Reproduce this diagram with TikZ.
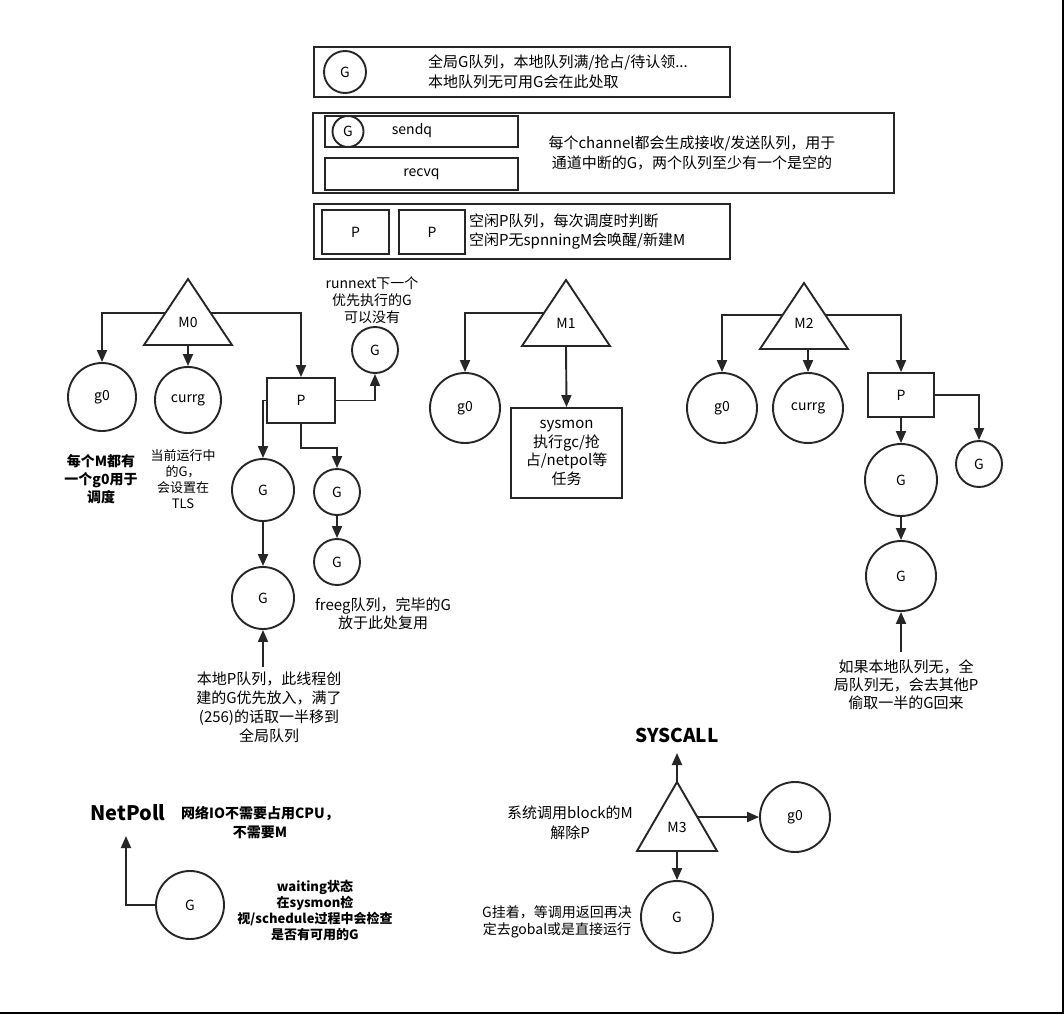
\documentclass[tikz,border=0pt]{standalone}
\usepackage{fontspec}
\setmainfont{Noto Sans CJK SC}
\usetikzlibrary{arrows.meta,positioning,calc}

\begin{document}
\begin{tikzpicture}[x=1pt,y=-1pt,
            ln/.style={line width=1.9pt,draw=black!85},
            gcirc/.style={draw,circle,ln,inner sep=0pt,font=\fontsize{14}{16}\selectfont},
            pbox/.style={draw,rectangle,ln,inner sep=0pt,font=\fontsize{14}{16}\selectfont},
            qbox/.style={draw,rectangle,ln,inner sep=0pt},
            mlab/.style={inner sep=0pt,font=\fontsize{14}{16}\selectfont},
            note/.style={align=center,inner sep=0pt,font=\fontsize{15}{19}\selectfont},
            bnote/.style={align=center,inner sep=0pt,font=\bfseries\fontsize{13}{15.7}\selectfont},
            link/.style={draw,->,ln,>={Triangle[length=12pt,width=10pt]}}
          ]
          \useasboundingbox (0,0) rectangle (1064,1014);
          \draw[line width=1.5pt] (0,1013) coordinate (fr1) -- (1063,1013) coordinate (fr2) -- (1063,0) coordinate (fr3);

          %global queue
          \node[qbox,minimum width=416pt,minimum height=50pt] (gq) at (522,72) {};
          \node[gcirc,minimum size=42pt] (gqg) at (345,72) {G};
          \node[note,anchor=west,align=left,font=\fontsize{15}{20}\selectfont] (gqt) at (428,72) {全局G队列，本地队列满/抢占/待认领...\\本地队列无可用G会在此处取};

          %channel queues
          \node[qbox,minimum width=581pt,minimum height=80pt] (chq) at (603.5,153) {};
          \node[qbox,minimum width=193pt,minimum height=31pt] (sendq) at (421.5,131.5) {};
          \node[mlab] (sendqt) at (412,131) {sendq};
          \node[gcirc,minimum size=31pt] (sendqg) at (348,131.5) {G};
          \node[qbox,minimum width=193pt,minimum height=32pt,font=\fontsize{14}{16}\selectfont] (recvq) at (421.5,174) {recvq};
          \node[note,font=\fontsize{15}{20}\selectfont] (cht) at (692,153) {每个channel都会生成接收/发送队列，用于\\通道中断的G，两个队列至少有一个是空的};

          %idle P
          \node[qbox,minimum width=416pt,minimum height=55pt] (pq) at (522,231.5) {};
          \node[pbox,minimum width=67pt,minimum height=44pt] (pq1) at (355.5,232) {P};
          \node[pbox,minimum width=66pt,minimum height=44pt] (pq2) at (432,232) {P};
          \node[note,anchor=west,align=left] (pqt) at (469,232) {空闲P队列，每次调度时判断\\空闲P无spnningM会唤醒/新建M};

          %M0
          \draw[ln] (188,279) coordinate (m0a) -- (144,345) coordinate (m0l) -- (232,345) coordinate (m0r) -- cycle;
          \node[mlab] (m0) at (188,322) {M0};
          \node[gcirc,minimum size=68pt] (m0g0) at (102,397) {g0};
          \node[gcirc,minimum size=66pt] (m0cur) at (188,400) {currg};
          \node[pbox,minimum width=68pt,minimum height=45pt] (m0p) at (301,400.5) {P};
          \node[gcirc,minimum size=46pt] (m0next) at (375,350) {G};
          \node[gcirc,minimum size=62pt] (m0lg1) at (263,490) {G};
          \node[gcirc,minimum size=62pt] (m0lg2) at (263,598) {G};
          \node[gcirc,minimum size=46pt] (m0fg1) at (337,492) {G};
          \node[gcirc,minimum size=46pt] (m0fg2) at (337,562) {G};
          \coordinate (m0in) at (263,667);

          %labels
          \node[note,font=\fontsize{14}{17}\selectfont] (m0nextt) at (372,300) {runnext下一个\\优先执行的G\\可以没有};
          \node[bnote,font=\bfseries\fontsize{14}{18}\selectfont] (m0g0t) at (101,479) {每个M都有\\一个g0用于\\调度};
          \node[note,font=\fontsize{13}{16}\selectfont] (m0curt) at (183,479) {当前运行中\\的G，\\会设置在\\TLS};
          \node[note,font=\fontsize{15}{18}\selectfont] (m0fgt) at (383,614) {freeg队列，完毕的G\\放于此处复用};
          \node[note] (m0lgt) at (269,707.5) {本地P队列，此线程创\\建的G优先放入，满了\\(256)的话取一半移到\\全局队列};

          \path[link] ($(m0a)!0.515!(m0l)$) -| (m0g0.north);
          \path[link] ($(m0l)!0.5!(m0r)$) -- (m0cur.north);
          \path[link] ($(m0a)!0.515!(m0r)$) -| (m0p.north);
          \path[link] (m0p.east) -| (m0next.south);
          \path[link] (m0p.west) -| (m0lg1.north);
          \path[link] (m0lg1) -- (m0lg2);
          \path[link] (m0in) -- (m0lg2.south);
          \path[link] (m0p.south) -- ++(0,24) -| (m0fg1.north);
          \path[link] (m0fg1) -- (m0fg2);

          %M1
          \draw[ln] (566,280) coordinate (m1a) -- (522,346) coordinate (m1l) -- (610,346) coordinate (m1r) -- cycle;
          \node[mlab] (m1) at (566,323) {M1};
          \node[gcirc,minimum size=70pt] (m1g0) at (465,408) {g0};
          \node[pbox,minimum width=111pt,minimum height=90pt,align=center,font=\fontsize{15}{18.5}\selectfont] (m1sys) at (566.5,453) {sysmon\\执行gc/抢\\占/netpol等\\任务};
          \path[link] ($(m1a)!0.5!(m1l)$) -| (m1g0.north);
          \path[link] ($(m1l)!0.5!(m1r)$) -- (m1sys.north);

          %M2
          \draw[ln] (804,283) coordinate (m2a) -- (760,349) coordinate (m2l) -- (848,349) coordinate (m2r) -- cycle;
          \node[mlab] (m2) at (804,323) {M2};
          \coordinate (m2b) at (808,349);
          \node[gcirc,minimum size=70pt] (m2g0) at (722,408) {g0};
          \node[gcirc,minimum size=70pt] (m2cur) at (808,408) {currg};
          \node[pbox,minimum width=66pt,minimum height=44pt] (m2p) at (901,395) {P};
          \node[gcirc,minimum size=46pt] (m2next) at (979,464) {G};
          \node[gcirc,minimum size=72pt] (m2lg1) at (901,480) {G};
          \node[gcirc,minimum size=70pt] (m2lg2) at (901,576) {G};
          \coordinate (m2in) at (901,652);
          \node[note,font=\fontsize{15}{18}\selectfont] (m2t) at (906,685) {如果本地队列无，全\\局队列无，会去其他P\\偷取一半的G回来};
          \path[link] ($(m2a)!0.485!(m2l)$) -| (m2g0.north);
          \path[link] (m2b) -- (m2cur.north);
          \path[link] ($(m2a)!0.485!(m2r)$) -| (m2p.north);
          \path[link] (m2p.east) -| (m2next.north);
          \path[link] (m2p.south) -- (m2lg1.north);
          \path[link] (m2lg1) -- (m2lg2);
          \path[link] (m2in) -- (m2lg2.south);

          %netpoll
          \node[inner sep=0pt,font=\bfseries\fontsize{20}{22}\selectfont] (np) at (128,813) {NetPoll};
          \coordinate (npin) at (126,836);
          \node[bnote,font=\bfseries\fontsize{14}{19}\selectfont] (npt) at (260,822.5) {网络IO不需要占用CPU，\\不需要M};
          \node[gcirc,minimum size=68pt] (npg) at (190,905) {G};
          \node[bnote] (npgt) at (315,910.5) {waiting状态\\在sysmon检\\视/schedule过程中会检查\\是否有可用的G};
          \path[link] (npg.west) -| (npin);

          %M3 syscall
          \node[inner sep=0pt,font=\bfseries\fontsize{19}{21}\selectfont] (sc) at (677,735) {SYSCALL};
          \coordinate (scin) at (677,753);
          \draw[ln] (677,782) coordinate (m3a) -- (637,851) coordinate (m3l) -- (717,851) coordinate (m3r) -- cycle;
          \node[mlab] (m3) at (677,827) {M3};
          \node[gcirc,minimum size=70pt] (m3g0) at (795,817) {g0};
          \node[gcirc,minimum size=72pt] (m3g) at (677,917) {G};
          \node[note,font=\fontsize{15}{20}\selectfont] (m3t) at (570,823) {系统调用block的M\\解除P};
          \node[note,font=\fontsize{14}{17}\selectfont] (m3gt) at (557,921.5) {G挂着，等调用返回再决\\定去gobal或是直接运行};
          \path[link] (m3a) -- (scin);
          \path[link] ($(m3a)!0.507!(m3r)$) -- (m3g0.west);
          \path[link] ($(m3l)!0.5!(m3r)$) -- (m3g.north);

      \end{tikzpicture}
\end{document}
